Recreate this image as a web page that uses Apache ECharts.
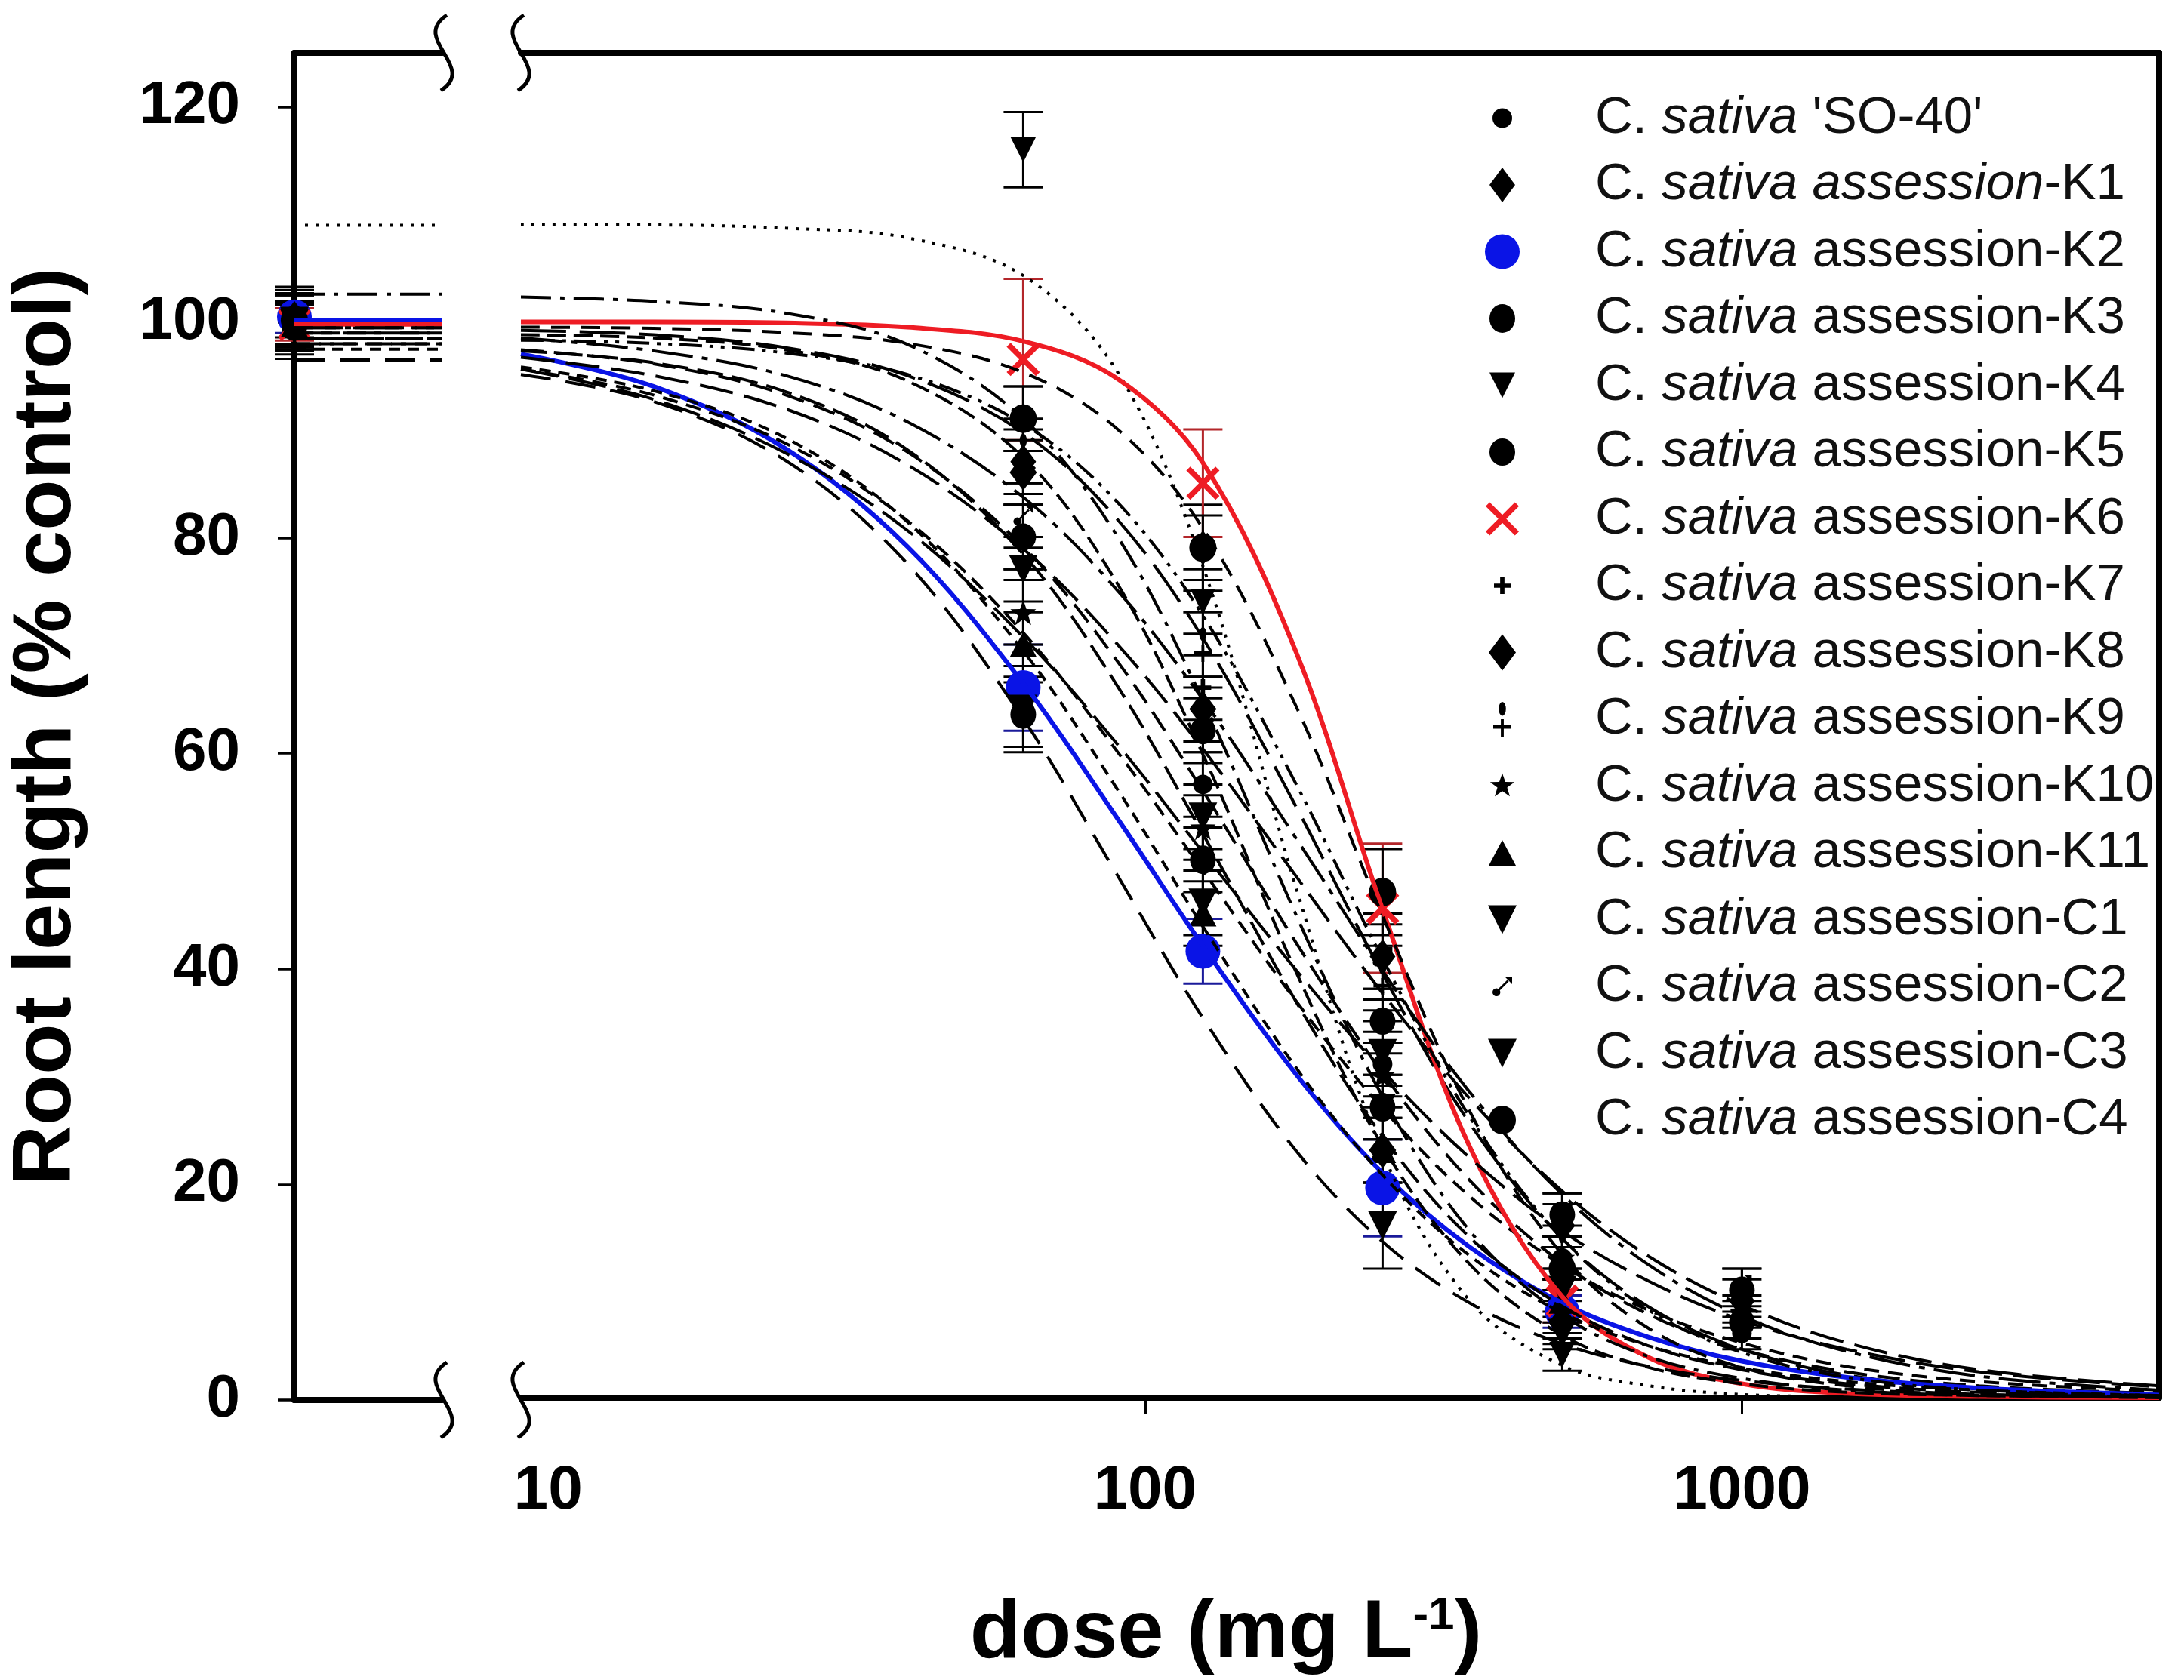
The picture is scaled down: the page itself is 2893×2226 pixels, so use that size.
<!DOCTYPE html>
<html>
<head>
<meta charset="utf-8">
<script src="https://cdn.jsdelivr.net/npm/echarts@6.0.0/dist/echarts.min.js"></script>
<style>
html,body{margin:0;padding:0;background:#ffffff;}
#c{width:2893px;height:2226px;}
</style>
</head>
<body>
<div id="c"></div>
<script>
// ---------------- DATA ----------------
const seriesNames = [
  "C. sativa 'SO-40'", "C. sativa assession-K1", "C. sativa assession-K2", "C. sativa assession-K3",
  "C. sativa assession-K4", "C. sativa assession-K5", "C. sativa assession-K6", "C. sativa assession-K7",
  "C. sativa assession-K8", "C. sativa assession-K9", "C. sativa assession-K10", "C. sativa assession-K11",
  "C. sativa assession-C1", "C. sativa assession-C2", "C. sativa assession-C3", "C. sativa assession-C4"
];
const doses = [62.5, 125, 250, 500, 1000];
const fitDoses = [9, 15, 25, 40, 62.5, 90, 125, 180, 250, 350, 500, 700, 1000, 1500, 2500, 5000];
const xLabelValues = [10, 100, 1000];
const xTickValues = [100, 1000];
const yTickValues = [0, 20, 40, 60, 80, 100, 120];

// control (dose 0) values and fitted upper plateau shown in the break panel
const controlMean = [100, 100, 100.5, 99.6, 100, 100.2, 99.8, 100, 100.3, 99.7, 100, 99.8, 100.1, 100, 99.9, 100.2];
const controlSD   = [2, 2.5, 1.5, 3, 2, 2.5, 1.5, 2, 3, 2, 2.5, 2, 1.5, 3, 2, 2.5];
const plateau     = [98.5, 99.5, 100.2, 98, 109, 98.5, 99.8, 102.6, 99, 98.5, 99, 97.5, 98, 99.5, 96.5, 99.5];

// measured means / SD at doses 62.5,125,250,500,1000 (null = not shown)
const SO40_mean = [80, 57, 31, 13, 6];      const SO40_sd = [3, 3, 3, 2, 1.5];
const K1_mean   = [87, 79, 41, 16, 9];      const K1_sd   = [3, 4, 4, 2, 2];
const K2_mean   = [66, 41.5, 19.5, 8, null];const K2_sd   = [4, 3, 4.5, 1.5, null];
const K3_mean   = [63.5, 50, 27, 12, 7];    const K3_sd   = [3, 3, 3, 2, 1.5];
const K4_mean   = [116, 74, 27, 4, null];   const K4_sd   = [3.5, 3, 3, 1.5, null];
const K5_mean   = [80, 62, 35, 17, 10];     const K5_sd   = [3, 3, 3, 2, 2];
const K6_mean   = [96.5, 85, 45.5, 9, null];const K6_sd   = [7.5, 5, 6, 2, null];
const K7_mean   = [91, 66, 30, 8, null];    const K7_sd   = [3, 3, 3, 2, null];
const K8_mean   = [86, 64, 23, 7, null];    const K8_sd   = [3, 3, 3, 2, null];
const K9_mean   = [88, 70, 39, 14, null];   const K9_sd   = [3, 3, 3, 2, null];
const K10_mean  = [73, 53, 30, 13, 8];      const K10_sd  = [3, 3, 3, 2, 1.5];
const K11_mean  = [70, 45, 23, 9, null];    const K11_sd  = [3, 3, 3, 2, null];
const C1_mean   = [77, 54, 32, 10, null];   const C1_sd   = [3, 3, 3, 2, null];
const C2_mean   = [82, 63, 41, 17, 10.5];   const C2_sd   = [3, 3, 3, 2, 1.5];
const C3_mean   = [64, 46, 16, 6, null];    const C3_sd   = [4, 3, 4, 1.5, null];
const C4_mean   = [91, 79, 47, 12, null];   const C4_sd   = [3, 3, 4, 2, null];

// fitted curves read at fitDoses
const SO40_fit = [97.4, 96.1, 93.2, 87.9, 79.1, 68.4, 56.4, 42.1, 30.2, 20.2, 12.5, 7.7, 4.5, 2.4, 1.1, 0.4];
const K1_fit   = [99.2, 98.8, 97.6, 95.0, 89.7, 81.6, 70.6, 54.7, 39.4, 25.5, 14.8, 8.4, 4.5, 2.1, 0.8, 0.2];
const K2_fit   = [97.0, 94.0, 88.2, 79.1, 66.4, 53.8, 42.0, 29.9, 20.9, 14.0, 8.8, 5.6, 3.4, 1.9, 0.9, 0.3];
const K3_fit   = [95.6, 93.2, 88.7, 81.5, 71.1, 60.0, 49.0, 36.7, 26.9, 18.7, 12.3, 8.1, 5.1, 2.9, 1.5, 0.6];
const K4_fit   = [109.0, 109.0, 108.7, 107.8, 104.3, 95.3, 77.3, 47.0, 22.8, 9.0, 3.0, 1.1, 0.3, 0.1, 0.0, 0.0];
const K5_fit   = [96.7, 95.0, 91.9, 86.7, 78.9, 70.0, 60.3, 48.3, 37.6, 27.8, 19.2, 13.1, 8.6, 5.1, 2.6, 1.1];
const K6_fit   = [100.0, 100.0, 99.9, 99.5, 98.2, 94.7, 86.9, 69.0, 45.4, 23.3, 9.4, 3.7, 1.3, 0.4, 0.1, 0.0];
const K7_fit   = [102.3, 101.9, 100.8, 97.9, 91.0, 80.0, 64.8, 44.6, 28.0, 15.5, 7.7, 3.8, 1.8, 0.7, 0.2, 0.1];
const K8_fit   = [98.8, 98.5, 97.4, 94.5, 87.4, 75.6, 59.8, 39.3, 23.4, 12.4, 5.8, 2.8, 1.3, 0.5, 0.2, 0.0];
const K9_fit   = [98.3, 98.0, 97.1, 95.1, 90.5, 83.2, 72.7, 56.8, 40.8, 26.1, 14.8, 8.1, 4.2, 1.9, 0.7, 0.2];
const K10_fit  = [95.6, 92.8, 87.8, 80.6, 70.7, 60.7, 50.7, 39.6, 30.4, 22.3, 15.5, 10.8, 7.2, 4.5, 2.4, 1.0];
const K11_fit  = [95.8, 93.6, 89.2, 81.4, 69.4, 56.5, 43.8, 30.5, 20.7, 13.2, 7.9, 4.8, 2.8, 1.5, 0.7, 0.2];
const C1_fit   = [97.3, 96.2, 93.5, 88.1, 78.4, 66.1, 52.4, 36.6, 24.3, 14.9, 8.5, 4.8, 2.6, 1.3, 0.5, 0.2];
const C2_fit   = [98.5, 97.3, 95.0, 90.7, 83.7, 75.0, 64.9, 51.8, 39.7, 28.4, 18.9, 12.3, 7.6, 4.3, 2.0, 0.7];
const C3_fit   = [95.1, 92.6, 87.1, 77.5, 63.1, 48.5, 35.3, 22.8, 14.5, 8.8, 5.0, 2.9, 1.6, 0.8, 0.3, 0.1];
const C4_fit   = [99.5, 99.4, 99.0, 98.0, 95.3, 90.0, 80.8, 64.0, 44.8, 26.6, 13.3, 6.4, 2.8, 1.1, 0.3, 0.1];

const allMeans = [SO40_mean, K1_mean, K2_mean, K3_mean, K4_mean, K5_mean, K6_mean, K7_mean, K8_mean, K9_mean, K10_mean, K11_mean, C1_mean, C2_mean, C3_mean, C4_mean];
const allSD    = [SO40_sd, K1_sd, K2_sd, K3_sd, K4_sd, K5_sd, K6_sd, K7_sd, K8_sd, K9_sd, K10_sd, K11_sd, C1_sd, C2_sd, C3_sd, C4_sd];
const allFits  = [SO40_fit, K1_fit, K2_fit, K3_fit, K4_fit, K5_fit, K6_fit, K7_fit, K8_fit, K9_fit, K10_fit, K11_fit, C1_fit, C2_fit, C3_fit, C4_fit];

// ---------------- STYLES ----------------
const FONT = '"Liberation Sans", Arial, Helvetica, sans-serif';
const RED = '#ee1c24', RED_ERR = '#b3262a', BLUE = '#0a14e6', BLUE_ERR = '#1a1a9a', BLACK = '#000000';

const SHAPES = {
  circle: [{c: [0, 0, 0.5]}],
  diamond: [{p: [[0, -0.5], [0.5, 0], [0, 0.5], [-0.5, 0]]}],
  tdown: [{p: [[-0.5, -0.5], [0.5, -0.5], [0, 0.5]]}],
  tup: [{p: [[0, -0.5], [0.5, 0.5], [-0.5, 0.5]]}],
  cross: [{p: [[-0.5, -0.38], [-0.38, -0.5], [0, -0.12], [0.38, -0.5], [0.5, -0.38], [0.12, 0], [0.5, 0.38], [0.38, 0.5], [0, 0.12], [-0.38, 0.5], [-0.5, 0.38], [-0.12, 0]]}],
  plus: [{p: [[-0.13, -0.5], [0.13, -0.5], [0.13, -0.13], [0.5, -0.13], [0.5, 0.13], [0.13, 0.13], [0.13, 0.5], [-0.13, 0.5], [-0.13, 0.13], [-0.5, 0.13], [-0.5, -0.13], [-0.13, -0.13]]}],
  star: [{p: [[0, -0.5], [0.118, -0.162], [0.476, -0.155], [0.19, 0.062], [0.294, 0.405], [0, 0.2], [-0.294, 0.405], [-0.19, 0.062], [-0.476, -0.155], [-0.118, -0.162]]}],
  k9: [{c: [0, -0.3, 0.2]}, {p: [[-0.08, 0.0], [0.08, 0.0], [0.08, 0.17], [0.5, 0.17], [0.5, 0.27], [0.08, 0.27], [0.08, 0.5], [-0.08, 0.5], [-0.08, 0.27], [-0.5, 0.27], [-0.5, 0.17], [-0.08, 0.17]]}],
  c2: [{c: [-0.3, 0.3, 0.2]}, {p: [[-0.3, 0.22], [0.25, -0.33], [0.33, -0.25], [-0.22, 0.3]]}, {p: [[0.5, -0.5], [0.5, -0.12], [0.12, -0.5]]}]
};

const markStyles = [
  {shape: 'circle', w: 26, h: 26, color: BLACK, err: BLACK},
  {shape: 'diamond', w: 34, h: 46, color: BLACK, err: BLACK},
  {shape: 'circle', w: 46, h: 46, color: BLUE, err: BLUE_ERR},
  {shape: 'circle', w: 34, h: 38, color: BLACK, err: BLACK},
  {shape: 'tdown', w: 34, h: 34, color: BLACK, err: BLACK},
  {shape: 'circle', w: 34, h: 36, color: BLACK, err: BLACK},
  {shape: 'cross', w: 44, h: 44, color: RED, err: RED_ERR},
  {shape: 'plus', w: 22, h: 22, color: BLACK, err: BLACK},
  {shape: 'diamond', w: 36, h: 48, color: BLACK, err: BLACK},
  {shape: 'k9', w: 24, h: 46, color: BLACK, err: BLACK},
  {shape: 'star', w: 34, h: 34, color: BLACK, err: BLACK},
  {shape: 'tup', w: 36, h: 34, color: BLACK, err: BLACK},
  {shape: 'tdown', w: 38, h: 38, color: BLACK, err: BLACK},
  {shape: 'c2', w: 26, h: 26, color: BLACK, err: BLACK},
  {shape: 'tdown', w: 38, h: 38, color: BLACK, err: BLACK},
  {shape: 'circle', w: 36, h: 38, color: BLACK, err: BLACK}
];
const fitStyles = [
  {color: BLACK, width: 4, type: [30, 14]},
  {color: BLACK, width: 4, type: [60, 18]},
  {color: BLUE, width: 6, type: 'solid'},
  {color: BLACK, width: 4, type: [20, 12]},
  {color: BLACK, width: 4, type: [4, 10]},
  {color: BLACK, width: 4, type: [45, 15]},
  {color: RED, width: 6, type: 'solid'},
  {color: BLACK, width: 4, type: [40, 12, 6, 12]},
  {color: BLACK, width: 4, type: [25, 10]},
  {color: BLACK, width: 4, type: [30, 10, 5, 10, 5, 10]},
  {color: BLACK, width: 4, type: [50, 15]},
  {color: BLACK, width: 4, type: [15, 10]},
  {color: BLACK, width: 4, type: [35, 12]},
  {color: BLACK, width: 4, type: [55, 12, 8, 12]},
  {color: BLACK, width: 4, type: [40, 20]},
  {color: BLACK, width: 4, type: [25, 15]}
];

function shapePath(shape, cx, cy, w, h) {
  let s = '';
  SHAPES[shape].forEach(function (part) {
    if (part.c) {
      const x = cx + part.c[0] * w, y = cy + part.c[1] * h, rx = part.c[2] * w, ry = part.c[2] * h;
      s += 'M' + (x - rx).toFixed(2) + ',' + y.toFixed(2) +
           'A' + rx.toFixed(2) + ',' + ry.toFixed(2) + ',0,1,1,' + (x + rx).toFixed(2) + ',' + y.toFixed(2) +
           'A' + rx.toFixed(2) + ',' + ry.toFixed(2) + ',0,1,1,' + (x - rx).toFixed(2) + ',' + y.toFixed(2) + 'Z';
    } else {
      s += part.p.map(function (q, k) {
        return (k ? 'L' : 'M') + (cx + q[0] * w).toFixed(2) + ',' + (cy + q[1] * h).toFixed(2);
      }).join('') + 'Z';
    }
  });
  return s;
}

const LEG_W = 146, LEG_H = 50, LEG_CX = 28;
function legendIcon(ms) {
  return 'path://M0,0L0,0M' + LEG_W + ',' + LEG_H + 'L' + LEG_W + ',' + LEG_H + shapePath(ms.shape, LEG_CX, LEG_H / 2, ms.w, ms.h);
}
function dataSymbol(ms) {
  return 'path://' + shapePath(ms.shape, 50, 50, 100, 100);
}

function errRender(color) {
  return function (params, api) {
    const x = api.value(0), m = api.value(1), s = api.value(2);
    const p1 = api.coord([x, m + s]);
    const p2 = api.coord([x, m - s]);
    const cap = 26;
    const st = {stroke: color, lineWidth: 3};
    return {
      type: 'group',
      children: [
        {type: 'line', shape: {x1: p1[0], y1: p1[1], x2: p2[0], y2: p2[1]}, style: st},
        {type: 'line', shape: {x1: p1[0] - cap, y1: p1[1], x2: p1[0] + cap, y2: p1[1]}, style: st},
        {type: 'line', shape: {x1: p2[0] - cap, y1: p2[1], x2: p2[0] + cap, y2: p2[1]}, style: st}
      ]
    };
  };
}

// ---------------- SERIES ----------------
const series = [];
seriesNames.forEach(function (name, i) {
  const ms = markStyles[i], fs = fitStyles[i];
  const lineStyle = {color: fs.color, width: fs.width, type: fs.type, cap: 'butt'};
  // plateau line in the control panel
  series.push({
    name: name + ' plateau', type: 'line', xAxisIndex: 0, yAxisIndex: 0,
    data: [[0, plateau[i]], [1, plateau[i]]], showSymbol: false, symbol: 'none',
    lineStyle: lineStyle, silent: true, animation: false
  });
  // fitted curve
  series.push({
    name: name + ' fit', type: 'line', xAxisIndex: 2, yAxisIndex: 1,
    data: fitDoses.map(function (d, k) { return [d, allFits[i][k]]; }),
    showSymbol: false, symbol: 'none', smooth: 0.35,
    lineStyle: lineStyle, silent: true, animation: false
  });
  // error bars
  const errData = [];
  doses.forEach(function (d, k) {
    if (allMeans[i][k] !== null) errData.push([d, allMeans[i][k], allSD[i][k]]);
  });
  series.push({
    name: name + ' err', type: 'custom', xAxisIndex: 2, yAxisIndex: 1,
    renderItem: errRender(ms.err), data: errData, silent: true, animation: false,
    encode: {x: 0, y: 1}
  });
  series.push({
    name: name + ' err0', type: 'custom', xAxisIndex: 0, yAxisIndex: 0,
    renderItem: errRender(ms.err), data: [[0, controlMean[i], controlSD[i]]], silent: true, animation: false,
    encode: {x: 0, y: 1}
  });
  // markers
  const pts = [];
  doses.forEach(function (d, k) {
    if (allMeans[i][k] !== null) pts.push([d, allMeans[i][k]]);
  });
  const sym = ms.shape === 'circle' ? 'circle' : dataSymbol(ms);
  series.push({
    name: name, type: 'scatter', xAxisIndex: 2, yAxisIndex: 1,
    data: pts, symbol: sym, symbolSize: [ms.w, ms.h],
    itemStyle: {color: ms.color, opacity: 1}, silent: true, animation: false, clip: false
  });
  series.push({
    name: name, type: 'scatter', xAxisIndex: 0, yAxisIndex: 0,
    data: [[0, controlMean[i]]], symbol: sym, symbolSize: [ms.w, ms.h],
    itemStyle: {color: ms.color, opacity: 1}, silent: true, animation: false, clip: false
  });
});

// ---------------- LEGEND ----------------
const legendData = seriesNames.map(function (name, i) {
  return {name: name, icon: legendIcon(markStyles[i]), itemStyle: {color: markStyles[i].color}};
});
function legendFormatter(name) {
  const idx = seriesNames.indexOf(name);
  const rest = name.replace('C. sativa ', '');
  if (idx === 1) {
    return '{n|C. }{i|sativa assession}{n|' + rest.replace('assession', '') + '}';
  }
  return '{n|C. }{i|sativa}{n| ' + rest + '}';
}

// ---------------- AXIS BREAK MARKS (decoration) ----------------
const GRID_TOP = 70, GRID_BOTTOM_Y = 1855, LEFT = 390, BREAK_L = 588, BREAK_R = 690, RIGHT_X = 2860;
function brace(bx, yc) {
  return {
    type: 'bezierCurve', z: 100,
    shape: {x1: bx + 4, y1: yc - 50, cpx1: bx - 45, cpy1: yc - 18, cpx2: bx + 45, cpy2: yc + 18, x2: bx - 4, y2: yc + 50},
    style: {stroke: '#000', lineWidth: 5, fill: null}
  };
}
const graphics = [brace(BREAK_L, GRID_TOP), brace(BREAK_R, GRID_TOP), brace(BREAK_L, GRID_BOTTOM_Y), brace(BREAK_R, GRID_BOTTOM_Y)];

const axisLineStyle = {color: '#000', width: 8};
const hidden = {show: false};

const option = {
  backgroundColor: '#ffffff',
  animation: false,
  textStyle: {fontFamily: FONT},
  grid: [
    {left: LEFT, top: GRID_TOP, width: BREAK_L - 2 - LEFT, height: GRID_BOTTOM_Y - GRID_TOP},
    {left: BREAK_R, top: GRID_TOP, width: RIGHT_X - BREAK_R, height: GRID_BOTTOM_Y - GRID_TOP}
  ],
  xAxis: [
    {gridIndex: 0, type: 'value', min: 0, max: 1, position: 'bottom',
     axisLine: {show: true, onZero: false, lineStyle: axisLineStyle}, axisTick: hidden, axisLabel: hidden, splitLine: hidden},
    {gridIndex: 0, type: 'value', min: 0, max: 1, position: 'top',
     axisLine: {show: true, onZero: false, lineStyle: axisLineStyle}, axisTick: hidden, axisLabel: hidden, splitLine: hidden},
    {gridIndex: 1, type: 'log', logBase: 10, min: 9, max: 5000, position: 'bottom',
     axisLine: {show: true, onZero: false, lineStyle: axisLineStyle},
     axisTick: {show: true, inside: false, length: 22, lineStyle: {color: '#000', width: 3}, customValues: xTickValues},
     axisLabel: {show: true, margin: 83, fontSize: 82, fontWeight: 'bold', color: '#000', fontFamily: FONT,
                 customValues: xLabelValues, formatter: function (v) { return String(Math.round(v)); }},
     minorTick: hidden, splitLine: hidden, minorSplitLine: hidden,
     name: '{a|dose (mg L}{s|-1}{a|)}', nameLocation: 'middle', nameGap: 259,
     nameTextStyle: {
       padding: [0, 302, 0, 0],
       rich: {
         a: {fontSize: 110, fontWeight: 'bold', color: '#000', fontFamily: FONT, lineHeight: 110},
         s: {fontSize: 62, fontWeight: 'bold', color: '#000', fontFamily: FONT, verticalAlign: 'top', lineHeight: 62}
       }
     }},
    {gridIndex: 1, type: 'log', logBase: 10, min: 9, max: 5000, position: 'top',
     axisLine: {show: true, onZero: false, lineStyle: axisLineStyle}, axisTick: hidden, axisLabel: hidden, splitLine: hidden, minorTick: hidden}
  ],
  yAxis: [
    {gridIndex: 0, type: 'value', min: 0, max: 125, position: 'left',
     axisLine: {show: true, onZero: false, lineStyle: axisLineStyle},
     axisTick: {show: true, inside: false, length: 22, lineStyle: {color: '#000', width: 3.5}, customValues: yTickValues},
     axisLabel: {show: true, margin: 72, fontSize: 80, fontWeight: 'bold', color: '#000', fontFamily: FONT, customValues: yTickValues},
     splitLine: hidden,
     name: 'Root length (% control)', nameLocation: 'middle', nameGap: 272,
     nameTextStyle: {fontSize: 110, fontWeight: 'bold', color: '#000', fontFamily: FONT}},
    {gridIndex: 1, type: 'value', min: 0, max: 125, show: false, splitLine: hidden},
    {gridIndex: 1, type: 'value', min: 0, max: 125, position: 'right',
     axisLine: {show: true, onZero: false, lineStyle: axisLineStyle}, axisTick: hidden, axisLabel: hidden, splitLine: hidden}
  ],
  legend: {
    orient: 'vertical', left: 1962, top: 122, padding: 0,
    itemWidth: LEG_W, itemHeight: LEG_H, itemGap: 19.5, selectedMode: false,
    data: legendData, formatter: legendFormatter,
    textStyle: {
      fontSize: 69, color: '#111', fontFamily: FONT, lineHeight: 69,
      rich: {
        n: {fontSize: 69, color: '#111', fontFamily: FONT, lineHeight: 69},
        i: {fontSize: 69, color: '#111', fontFamily: FONT, fontStyle: 'italic', lineHeight: 69}
      }
    }
  },
  graphic: graphics,
  series: series
};

const chart = echarts.init(document.getElementById('c'), null, {renderer: 'canvas', width: 2893, height: 2226});
chart.setOption(option);
</script>
</body>
</html>
